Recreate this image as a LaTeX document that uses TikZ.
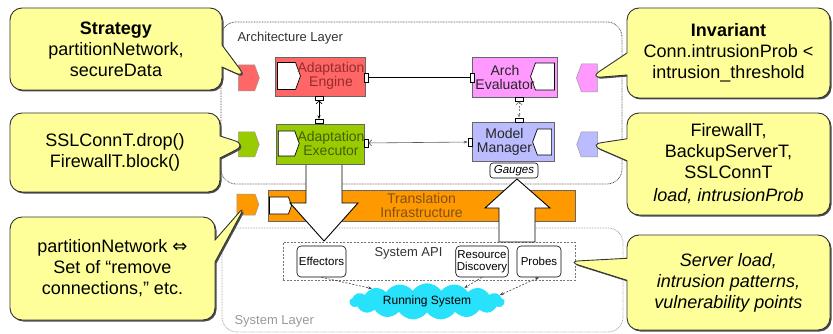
\documentclass[tikz,border=0pt]{standalone}
\usepackage{fontspec}
\setmainfont{Liberation Sans}
\newfontfamily\symfont{DejaVu Sans}
\usetikzlibrary{shapes.callouts,shapes.symbols,shadows,arrows.meta}

\definecolor{noteyel}{RGB}{255,255,153}
\definecolor{engred}{RGB}{255,102,102}
\definecolor{engtxt}{RGB}{150,45,45}
\definecolor{evalpink}{RGB}{255,153,255}
\definecolor{exegreen}{RGB}{153,204,0}
\definecolor{exetxt}{RGB}{70,95,0}
\definecolor{mmblue}{RGB}{187,187,255}
\definecolor{transor}{RGB}{255,153,0}
\definecolor{transtxt}{RGB}{130,80,20}
\definecolor{cloudcyan}{RGB}{40,225,250}

\begin{document}
\begin{tikzpicture}[x=1pt,y=-1pt,
  note/.style={rectangle callout, rounded corners=12pt, fill=noteyel, draw=black!80, line width=0.9pt,
    drop shadow={shadow xshift=1.5pt,shadow yshift=-1.5pt,fill=black!70,opacity=1},
    inner sep=0pt, align=center, font=\fontsize{18}{21}\selectfont, callout pointer width=22pt},
  comp/.style={rectangle, draw=black!60, line width=0.8pt, inner sep=0pt},
  comptext/.style={align=center, inner sep=0pt, font=\fontsize{14}{14}\selectfont},
  plug/.style={signal, draw=black, fill=white, line width=0.7pt, inner sep=0pt, signal pointer angle=140},
  tag/.style={signal, draw=black!40, line width=0.5pt, inner sep=0pt, minimum width=21pt, minimum height=26pt, signal pointer angle=140},
  port/.style={rectangle, draw=black, fill=white, line width=0.6pt, inner sep=0pt},
  prim/.style={rectangle, rounded corners=4pt, draw=black, line width=0.6pt, inner sep=1pt, align=center, font=\fontsize{11.5}{12}\selectfont},
  layer/.style={rounded corners=15pt, line width=0.8pt, dash pattern=on 0.8pt off 0.8pt},
  bigarrow/.style={draw=black, fill=white, line width=0.9pt},
  link/.style={draw=black!75, line width=0.6pt, dash pattern=on 2pt off 1.5pt},
]
\useasboundingbox (0,0) rectangle (833,334);

% layers
\draw[layer, draw=black!70] (221,22) rectangle (622,184);
\node[anchor=west, text=black!80, font=\fontsize{13}{13}\selectfont] (archlbl) at (234,38) {Architecture Layer};
\draw[layer, draw=black!35] (222,228) rectangle (623,332);
\node[anchor=west, text=black!40, font=\fontsize{13}{13}\selectfont] (syslbl) at (231,321) {System Layer};

% translation
\node[comp, fill=transor, minimum width=307pt, minimum height=31pt, text=transtxt, align=center,
      font=\fontsize{14}{14}\selectfont] (trans) at (421.5,205.5) {Translation\\Infrastructure};
\node[plug, signal to=east, minimum width=22pt, minimum height=17pt] (transplug) at (279,205.5) {};

% system API
\node[draw=black!55, dash pattern=on 2pt off 1.5pt, line width=0.6pt, minimum width=292pt, minimum height=38pt] (api) at (429,261) {};
\node[text=black!80, font=\fontsize{13}{13}\selectfont] (apilbl) at (408.5,253) {System API};
\node[prim, minimum width=49pt, minimum height=31pt] (eff) at (321.5,261.5) {Effectors};
\node[prim, minimum width=52pt, minimum height=31pt] (disc) at (482,261.5) {Resource\\Discovery};
\node[prim, minimum width=44pt, minimum height=31pt] (probes) at (539,261.5) {Probes};
\node[cloud, cloud puffs=17, cloud puff arc=110, aspect=5, fill=cloudcyan, inner sep=0pt,
      minimum width=155pt, minimum height=33pt, font=\fontsize{12}{12}\selectfont] (run) at (427,301.5) {Running System};
\draw[link, -{Stealth[length=4pt]}] (eff.south) -- (run.north west);
\draw[link, -{Stealth[length=4pt]}] (disc.south) -- (run.20);
\draw[link, {Stealth[length=4pt]}-{Stealth[length=4pt]}] (probes.south) -- (run.5);

% big arrows
\draw[bigarrow] (306,164) -- (306,203) -- (290,203) -- (324,241) -- (358,203) -- (342,203) -- (342,164);
\draw[bigarrow] (499,242) -- (499,208) -- (485,208) -- (517,179) -- (550,208) -- (535,208) -- (535,242) -- cycle;

% components
\node[comp, fill=engred, minimum width=90pt, minimum height=39pt] (engine) at (320,76.5) {};
\node[plug, signal to=east, minimum width=23pt, minimum height=27pt] (engplug) at (286.5,76) {};
\node[comptext, text=engtxt] (englbl) at (331,76) {Adaptation\\Engine};

\node[comp, fill=evalpink, minimum width=85pt, minimum height=40pt] (eval) at (514.5,77) {};
\node[plug, signal to=west, minimum width=24pt, minimum height=27pt] (evalplug) at (545,76.5) {};
\node[comptext, text=black!85] (evallbl) at (505,77) {Arch\\Evaluator};

\node[comp, fill=exegreen, minimum width=88pt, minimum height=40pt] (exec) at (320,144) {};
\node[plug, signal to=east, minimum width=21pt, minimum height=25pt] (execplug) at (286.5,143.5) {};
\node[comptext, text=exetxt] (execlbl) at (331,143.5) {Adaptation\\Executor};

\node[comp, fill=mmblue, minimum width=82pt, minimum height=39pt] (mm) at (513,141.5) {};
\node[plug, signal to=west, minimum width=19pt, minimum height=26pt] (mmplug) at (544.5,142) {};
\node[comptext, text=black!85] (mmlbl) at (504.5,141.5) {Model\\Manager};

\node[prim, rounded corners=3pt, minimum width=48pt, minimum height=15pt, inner sep=0pt,
      font=\itshape\fontsize{11.5}{12}\selectfont] (gauges) at (514,170.5) {Gauges};

% ports
\node[port, minimum width=4pt, minimum height=9pt] (engE) at (366,77.5) {};
\node[port, minimum width=4pt, minimum height=9pt] (evalW) at (472,77.5) {};
\node[port, minimum width=8pt, minimum height=4pt] (engS) at (319,98) {};
\node[port, minimum width=8pt, minimum height=4pt] (execN) at (319,121.5) {};
\node[port, minimum width=8pt, minimum height=4pt] (evalS) at (519,99) {};
\node[port, minimum width=8pt, minimum height=4pt] (mmN) at (519,120) {};
\node[port, minimum width=4pt, minimum height=8pt] (execE) at (366,143) {};
\node[port, minimum width=4pt, minimum height=8pt] (mmW) at (470,142) {};

\draw[black, line width=0.8pt] (engE) -- (evalW);
\draw[black, line width=0.7pt, {Straight Barb[length=3pt]}-{Stealth[length=4pt]}] (engS) -- (execN);
\draw[black!50, line width=0.7pt, dash pattern=on 2pt off 1.5pt, {Straight Barb[length=3pt]}-{Stealth[length=4pt]}] (evalS) -- (mmN);
\draw[black!65, line width=0.6pt, {Straight Barb[length=3pt]}-{Stealth[length=4pt]}] (execE) -- (mmW);

% tags on the layer edges
\node[tag, signal to=east, fill=engred] (engtag) at (246.5,78) {};
\node[tag, signal to=east, fill=exegreen, minimum height=25pt] (exectag) at (246.5,144.5) {};
\node[tag, signal to=east, fill=transor, minimum width=22pt, minimum height=21pt] (transtag) at (246,204.5) {};
\node[tag, signal to=west, fill=evalpink, minimum height=28pt] (evaltag) at (589.5,78) {};
\node[tag, signal to=west, fill=mmblue, minimum height=25pt] (mmtag) at (589.5,144.5) {};

% callouts
\node[note, minimum width=212pt, minimum height=82pt, callout absolute pointer={(engtag.center)}] (strat) at (116,49)
  {\textbf{Strategy}\\partitionNetwork,\\secureData};
\node[note, minimum width=210pt, minimum height=79pt, callout absolute pointer={(exectag.center)}] (ops) at (115,152.5)
  {SSLConnT.drop()\\FirewallT.block()};
\node[note, minimum width=205pt, minimum height=103pt, callout absolute pointer={(transtag.center)}] (map) at (112.5,268.5)
  {partitionNetwork {\symfont ⇔}\\Set of “remove\\connections,” etc.};
\node[note, minimum width=203pt, minimum height=90pt, callout absolute pointer={(evaltag.center)}] (inv) at (728.5,53)
  {\textbf{Invariant}\\Conn.intrusionProb <\\intrusion\_threshold};
\node[note, minimum width=203pt, minimum height=102pt, callout absolute pointer={(mmtag.center)}] (types) at (728.5,164)
  {FirewallT,\\BackupServerT,\\SSLConnT\\[2pt]\textit{load, intrusionProb}};
\node[note, minimum width=203pt, minimum height=95pt, callout absolute pointer={([xshift=6pt]probes.east)}] (obs) at (728.5,282.5)
  {\textit{Server load,}\\\textit{intrusion patterns,}\\\textit{vulnerability points}};
\end{tikzpicture}
\end{document}
